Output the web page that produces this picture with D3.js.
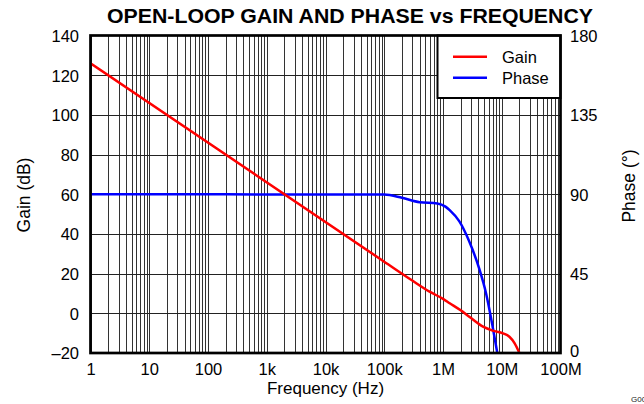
<!DOCTYPE html>
<html><head><meta charset="utf-8">
<script src="https://cdn.jsdelivr.net/npm/d3@7"></script>
<style>body{margin:0;background:#fff}svg{display:block}text{font-family:"Liberation Sans",Arial,sans-serif}</style>
</head><body><svg id="c" width="644" height="404"></svg>
<script>
const freqTicks = [1, 10, 100, 1e3, 1e4, 1e5, 1e6, 1e7, 1e8];
const freqLabels = ["1", "10", "100", "1k", "10k", "100k", "1M", "10M", "100M"];
const gainTicks = [-20, 0, 20, 40, 60, 80, 100, 120, 140];
const phaseTicks = [0, 45, 90, 135, 180];
const gainFreq = [1, 1e5, 3e5, 6e5, 1e6, 1.3e6, 2e6, 2.8e6, 4.8e6, 7e6, 1.05e7, 1.35e7, 1.66e7, 2e7];
const gainDb = [126, 26, 16.5, 10.8, 7.3, 5.1, 1.5, -1.7, -6.7, -8.7, -10.1, -11.8, -15.1, -20];
const phaseFreq = [1, 1e5, 2e5, 4e5, 8e5, 1.1e6, 1.3e6, 1.9e6, 2.8e6, 4.2e6, 5.4e6, 7e6, 8.4e6];
const phaseDeg = [90, 89.8, 88, 85.5, 84.8, 83, 81, 74.6, 63.2, 47.1, 33.9, 14.9, 0];
const seriesNames = ["Gain", "Phase"];
const seriesColors = ["#ff0000", "#0000ff"];

const L = 90.5, R = 560.5, T = 35.5, B = 353;
const svg = d3.select("#c");
const x = d3.scaleLog().domain([1, 1e8]).range([L, R]);
const yG = d3.scaleLinear().domain([-20, 140]).range([B, T]);
const yP = d3.scaleLinear().domain([0, 180]).range([B, T]);

// grid
const minor = [];
for (let d = 0; d < 8; d++) for (let k = 1; k <= 9; k++) minor.push(k * Math.pow(10, d));
svg.append("g").selectAll("line").data(minor).join("line")
  .attr("x1", d => Math.round(x(d)) + 0.5).attr("x2", d => Math.round(x(d)) + 0.5)
  .attr("y1", T).attr("y2", B).attr("stroke", "#333").attr("stroke-width", 1);
svg.append("g").selectAll("line").data(gainTicks.slice(1, -1)).join("line")
  .attr("x1", L).attr("x2", R)
  .attr("y1", d => Math.round(yG(d)) + 0.5).attr("y2", d => Math.round(yG(d)) + 0.5)
  .attr("stroke", "#222").attr("stroke-width", 1);

// curves
svg.append("clipPath").attr("id", "clip").append("rect").attr("x", L).attr("y", T).attr("width", R - L).attr("height", B - T);
const gLine = d3.line().x(d => x(d[0])).y(d => yG(d[1])).curve(d3.curveMonotoneX);
const pLine = d3.line().x(d => x(d[0])).y(d => yP(d[1])).curve(d3.curveMonotoneX);
const cg = svg.append("g").attr("clip-path", "url(#clip)");
cg.append("path").attr("d", pLine(d3.zip(phaseFreq, phaseDeg))).attr("fill", "none").attr("stroke", seriesColors[1]).attr("stroke-width", 2.5);
cg.append("path").attr("d", gLine(d3.zip(gainFreq, gainDb))).attr("fill", "none").attr("stroke", seriesColors[0]).attr("stroke-width", 2.5);

// legend
const lg = svg.append("g");
lg.append("rect").attr("x", 437.5).attr("y", T).attr("width", R - 437.5).attr("height", 98 - T)
  .attr("fill", "#fff").attr("stroke", "#000").attr("stroke-width", 2);
seriesNames.forEach((n, i) => {
  const yy = 56.7 + i * 21;
  lg.append("line").attr("x1", 453).attr("x2", 487).attr("y1", yy).attr("y2", yy).attr("stroke", seriesColors[i]).attr("stroke-width", 2.5);
  lg.append("text").attr("x", 502).attr("y", yy + 5.8).attr("font-size", 16.5).text(n);
});

// border
svg.append("rect").attr("x", L).attr("y", T).attr("width", R - L).attr("height", B - T)
  .attr("fill", "none").attr("stroke", "#000").attr("stroke-width", 2.7);

// axes labels
const xAxis = d3.axisBottom(x).tickValues(freqTicks).tickFormat((d, i) => freqLabels[i]).tickSize(0).tickPadding(0);
const gx = svg.append("g").attr("transform", `translate(0,${B})`).call(xAxis);
gx.select(".domain").remove();
gx.selectAll("text").attr("dy", null).attr("y", 21.5).attr("font-size", 16.5).attr("fill", "#000").style("font-family", '"Liberation Sans",Arial,sans-serif');

const yAxisL = d3.axisLeft(yG).tickValues(gainTicks).tickSize(0).tickPadding(0);
const gl = svg.append("g").attr("transform", `translate(79,0)`).call(yAxisL);
gl.select(".domain").remove();
gl.selectAll("text").attr("x", 0).attr("dy", "0.36em").attr("font-size", 16.5).attr("fill", "#000").style("font-family", '"Liberation Sans",Arial,sans-serif')
  .text(d => d < 0 ? "\u2013" + Math.abs(d) : d);

const yAxisR = d3.axisRight(yP).tickValues(phaseTicks).tickSize(0).tickPadding(0);
const gr = svg.append("g").attr("transform", `translate(570,0)`).call(yAxisR);
gr.select(".domain").remove();
gr.selectAll("text").attr("x", 0).attr("dy", d => d === 0 ? "0.2em" : "0.36em").attr("font-size", 16.5).attr("fill", "#000").style("font-family", '"Liberation Sans",Arial,sans-serif');

svg.append("text").attr("x", 350).attr("y", 23.3).attr("text-anchor", "middle").attr("font-size", 19.5).attr("font-weight", "bold")
  .attr("textLength", 486).attr("lengthAdjust", "spacingAndGlyphs").text("OPEN-LOOP GAIN AND PHASE vs FREQUENCY");
svg.append("text").attr("x", 325.5).attr("y", 394).attr("text-anchor", "middle").attr("font-size", 17).text("Frequency (Hz)");
svg.append("text").attr("transform", "translate(30,195) rotate(-90)").attr("text-anchor", "middle").attr("font-size", 17.5).text("Gain (dB)");
svg.append("text").attr("transform", "translate(635,186) rotate(-90)").attr("text-anchor", "middle").attr("font-size", 17.5).text("Phase (°)");
svg.append("text").attr("x", 631).attr("y", 401.5).attr("font-size", 8).attr("fill", "#222").text("G001");
</script></body></html>
